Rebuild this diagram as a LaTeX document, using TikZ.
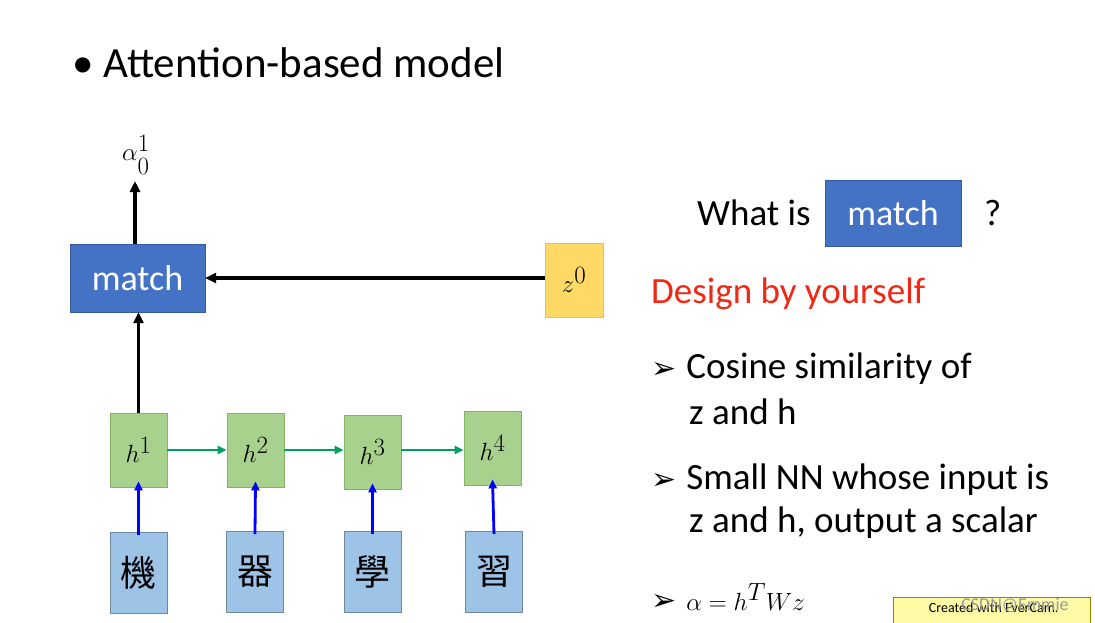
\documentclass[tikz,border=0pt]{standalone}
\usepackage{amssymb}
\usepackage{fontspec}
\setmainfont{Carlito}
\newfontfamily\cjk{Noto Sans CJK TC}
\newfontfamily\dvs{DejaVu Sans}
\usetikzlibrary{arrows.meta}
\definecolor{mblue}{HTML}{4472C4}
\definecolor{hgreen}{HTML}{A9D18E}
\definecolor{hgreenb}{HTML}{82B366}
\definecolor{cblue}{HTML}{9DC3E6}
\definecolor{zor}{HTML}{FFD966}
\definecolor{zorb}{HTML}{F4B183}
\definecolor{agreen}{HTML}{00A060}
\newcommand{\arr}{{\dvs\fontsize{30}{30}\selectfont ➢}\hspace{10pt}}
\begin{document}
\begin{tikzpicture}[x=1pt,y=-1pt,
 box/.style={draw,minimum width=57pt,minimum height=74pt,inner sep=0pt,line width=0.8pt},
 hb/.style={box,fill=hgreen,draw=hgreenb,font=\fontsize{40}{40}\selectfont},
 cb/.style={box,fill=cblue,draw=cblue!70!black,minimum height=81pt,font=\cjk\fontsize{36}{36}\selectfont},
 mb/.style={fill=mblue,draw=mblue!80!black,text=white,inner sep=0pt,font=\fontsize{36}{36}\selectfont},
 blk/.style={-{Triangle[length=11pt,width=10pt]},line width=3.5pt},
 grn/.style={-{Triangle[length=9pt,width=8pt]},line width=2.8pt,draw=agreen},
 blu/.style={-{Triangle[length=9pt,width=8pt]},line width=2.8pt,draw=blue},
 txt/.style={anchor=west,inner sep=0pt,font=\fontsize{37}{44}\selectfont}]
\useasboundingbox[fill=white] (0,0) rectangle (1095,622);
\node[txt,font=\fontsize{43}{48}\selectfont] (title) at (72,63) {\textbullet\ Attention-based model};
\node[mb,minimum width=135pt,minimum height=68pt] (match) at (137.5,278) {match};
\node[box,fill=zor,draw=zorb,minimum width=58pt,font=\fontsize{40}{40}\selectfont] (z) at (574,280) {$z^0$};
\node[hb] (h1) at (138.5,450) {$h^1$};
\node[hb] (h2) at (255.5,450) {$h^2$};
\node[hb] (h3) at (372.5,452) {$h^3$};
\node[hb] (h4) at (492.5,448) {$h^4$};
\node[cb] (c1) at (138.5,573) {機};
\node[cb] (c2) at (255,572) {器};
\node[cb] (c3) at (372.5,572) {學};
\node[cb] (c4) at (494,572) {習};
\node[inner sep=0pt,font=\fontsize{38}{38}\selectfont] (a) at (136,155) {$\alpha_0^1$};
\coordinate (atop) at (135,181);
\draw[blk] (match.north -| atop) -- (atop);
\draw[blk] (h1.north) -- (h1.north |- match.south);
\draw[blk] (z.west |- match.east) -- (match.east);
\draw[grn] (h1.east) -- (h2.west);
\draw[grn] (h2.east) -- (h3.west |- h2.east);
\draw[grn] (h3.east |- h2.east) -- (h4.west |- h2.east);
\foreach \i in {1,2,3,4} \draw[blu] ([yshift=-3pt]c\i.north) -- ([yshift=6pt]h\i.south);
\node[txt] (w) at (697,213) {What is};
\node[mb,minimum width=136pt,minimum height=66pt] (m2) at (893,213) {match};
\node[txt] (q) at (984,213) {?};
\node[txt,text={rgb,255:red,240;green,40;blue,20}] (d) at (651,294) {Design by yourself};
\node[txt] (b1) at (651,369) {\arr Cosine similarity of};
\node[txt] (b1b) at (689,412) {z and h};
\node[txt] (b2) at (651,480) {\arr Small NN whose input is};
\node[txt] (b2b) at (689,523) {z and h, output a scalar};
\node[txt] (b3) at (651,597) {\arr $\alpha=h^TWz$};
\node[draw=olive,fill=yellow!35,anchor=north west,minimum width=197pt,minimum height=30pt,inner sep=2pt,font=\fontsize{14}{14}\selectfont,align=left,text depth=0pt] (wm) at (893,597) {\hspace{4pt}\raisebox{10pt}{Created with EverCam.}};
\node[text=gray!80,font=\fontsize{18}{18}\selectfont] (cs) at (1015,605) {CSDN@Emmie};
\end{tikzpicture}
\end{document}
